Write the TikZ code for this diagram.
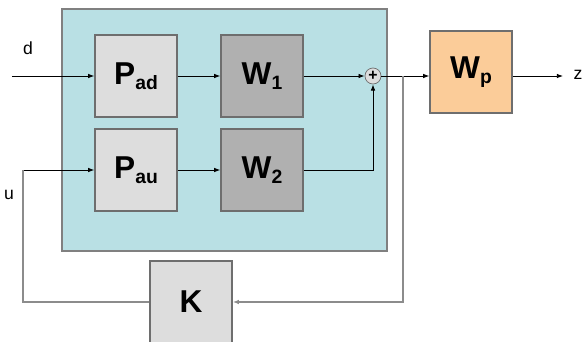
\documentclass[tikz,border=0pt]{standalone}
\usepackage{fontspec}
\setmainfont{Liberation Sans}
\usetikzlibrary{arrows.meta, positioning}

\definecolor{plantbg}{RGB}{185,224,228}
\definecolor{lightblk}{RGB}{221,221,221}
\definecolor{darkblk}{RGB}{176,176,176}
\definecolor{perfblk}{RGB}{251,204,153}
\definecolor{edgegray}{RGB}{110,110,110}

\newcommand{\blklbl}[2]{#1\raisebox{-0.3ex}{\fontsize{11}{11}\selectfont #2}}

\begin{document}
\begin{tikzpicture}[x=0.02cm, y=-0.02cm,
  blk/.style={rectangle, draw=edgegray, line width=0.8pt, minimum size=1.64cm,
              inner sep=0pt, font=\bfseries\fontsize{18}{18}\selectfont},
  sig/.style={-{Latex[length=3.5pt,width=2.6pt]}, line width=0.5pt},
  fb/.style={line width=0.8pt, draw=black!45},
  lbl/.style={font=\fontsize{10}{10}\selectfont}
]
\useasboundingbox (0,0) rectangle (583,342);
%% generalized plant frame
\node[draw=black!50, line width=0.8pt, fill=plantbg, minimum width=6.5cm,
      minimum height=4.84cm, inner sep=0pt] (plant) at (224.5,130) {};
%% blocks
\node[blk, fill=lightblk] (Pad) at (136,76)  {\blklbl{P}{ad}};
\node[blk, fill=darkblk]  (W1)  at (262,76)  {\blklbl{W}{1}};
\node[blk, fill=lightblk] (Pau) at (136,170) {\blklbl{P}{au}};
\node[blk, fill=darkblk]  (W2)  at (262,170) {\blklbl{W}{2}};
\node[circle, draw=edgegray, fill=lightblk, minimum size=0.32cm, inner sep=0pt,
      font=\bfseries\fontsize{9}{9}\selectfont] (sum) at (373,76) {+};
\node[blk, fill=perfblk]  (Wp)  at (471,72)  {\blklbl{W}{p}};
\node[blk, fill=lightblk] (K)   at (191,302) {K};
%% signals
\coordinate (din)  at (12,76);
\coordinate (uin)  at (23,170);
\coordinate (br)   at (403,76);
\coordinate (zout) at (563,76);
\node[lbl] (dlbl) at (28,48)  {d};
\node[lbl] (ulbl) at (9,195)  {u};
\node[lbl] (zlbl) at (578,75) {z};
%% connections
\draw[sig] (din) -- (Pad.west |- din);
\draw[sig] (Pad.east |- din) -- (W1.west |- din);
\draw[sig] (W1.east |- din) -- (sum.west);
\draw[sig] (uin) -- (Pau.west |- uin);
\draw[sig] (Pau.east |- uin) -- (W2.west |- uin);
\draw[sig] (W2.east |- uin) -| (sum.south);
\draw[sig] (sum.east) -- (Wp.west |- sum);
\draw[sig] (Wp.east |- sum) -- (zout);
%% feedback through K
\draw[fb, -{Latex[length=3.5pt,width=2.6pt]}] (br) -- (br |- K) -- (K.east);
\draw[fb] (K.west) -| (uin);
\end{tikzpicture}
\end{document}
